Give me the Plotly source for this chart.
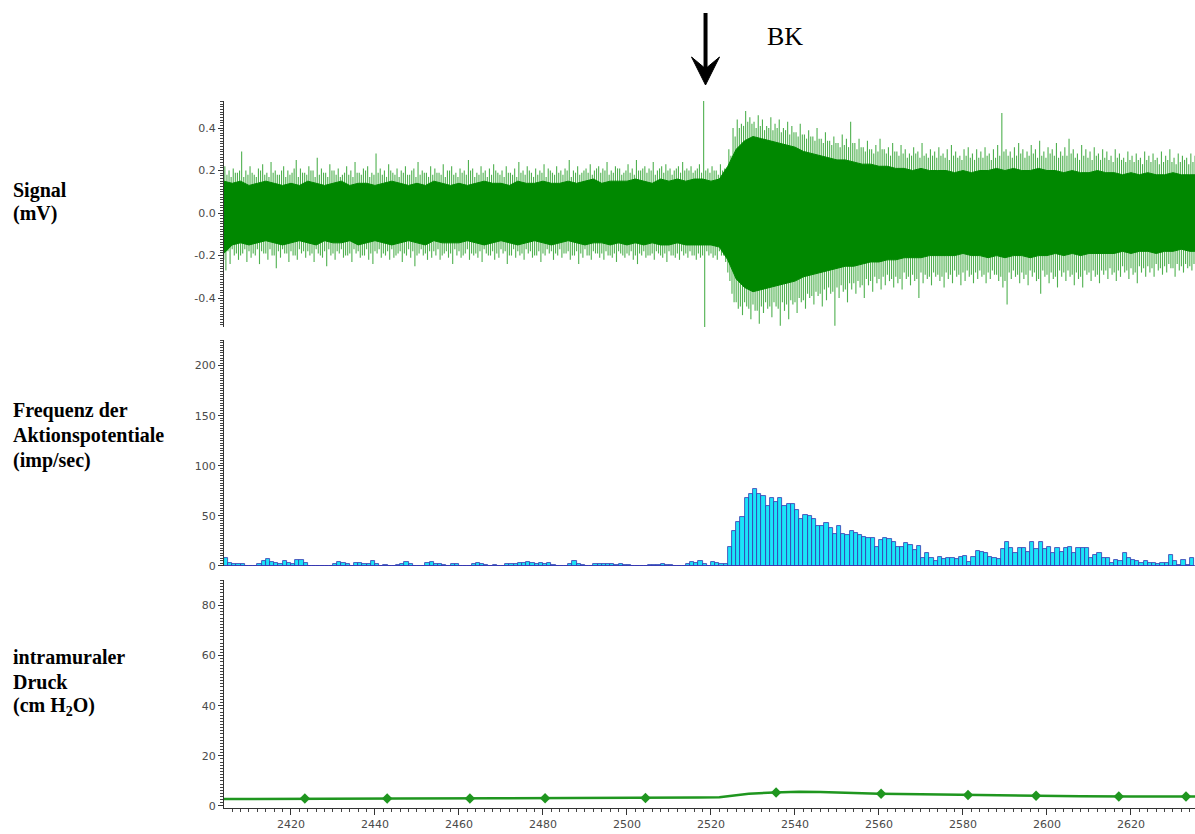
import plotly.graph_objects as go

# ---------------- data ----------------
# Signal (mV): per-second extreme spikes, starting at t = 2404 s
sig_start = 2404
spike_hi = [
    0.22, 0.2, 0.21, 0.19, 0.29, 0.2, 0.22, 0.18, 0.21, 0.23,
    0.19, 0.24, 0.2, 0.18, 0.22, 0.2, 0.19, 0.25, 0.21, 0.19,
    0.22, 0.2, 0.26, 0.21, 0.19, 0.23, 0.2, 0.21, 0.18, 0.22,
    0.2, 0.24, 0.19, 0.21, 0.22, 0.19, 0.28, 0.21, 0.2, 0.23,
    0.19, 0.21, 0.2, 0.22, 0.18, 0.21, 0.24, 0.2, 0.19, 0.22,
    0.21, 0.19, 0.23, 0.2, 0.22, 0.19, 0.21, 0.2, 0.25, 0.21,
    0.19, 0.22, 0.2, 0.21, 0.23, 0.19, 0.2, 0.22, 0.19, 0.21,
    0.24, 0.2, 0.22, 0.19, 0.21, 0.2, 0.23, 0.21, 0.19, 0.22,
    0.2, 0.21, 0.25, 0.2, 0.22, 0.19, 0.21, 0.23, 0.2, 0.22,
    0.21, 0.24, 0.2, 0.22, 0.21, 0.19, 0.23, 0.21, 0.25, 0.2,
    0.22, 0.21, 0.24, 0.2, 0.22, 0.23, 0.21, 0.2, 0.22, 0.24,
    0.21, 0.22, 0.2, 0.23, 0.53, 0.21, 0.22, 0.2, 0.23, 0.21,
    0.3, 0.4, 0.44, 0.42, 0.48, 0.45, 0.43, 0.46, 0.44, 0.41,
    0.45, 0.42, 0.44, 0.4, 0.43, 0.41, 0.38, 0.42, 0.37, 0.39,
    0.36, 0.4, 0.35, 0.38, 0.34, 0.36, 0.33, 0.37, 0.35, 0.43,
    0.33, 0.35, 0.31, 0.34, 0.3, 0.32, 0.35, 0.3, 0.31, 0.33,
    0.29, 0.32, 0.3, 0.28, 0.31, 0.29, 0.33, 0.28, 0.3, 0.29,
    0.31, 0.28, 0.3, 0.32, 0.29, 0.27, 0.3, 0.31, 0.28, 0.3,
    0.29, 0.31, 0.28, 0.3, 0.32, 0.47, 0.3, 0.29, 0.31, 0.33,
    0.3, 0.29, 0.32, 0.3, 0.34, 0.29, 0.31, 0.3, 0.33, 0.29,
    0.31, 0.35, 0.3, 0.28, 0.32, 0.3, 0.29, 0.31, 0.28, 0.3,
    0.29, 0.27, 0.3, 0.28, 0.26, 0.29, 0.27, 0.28, 0.26, 0.29,
    0.27, 0.28, 0.26, 0.29, 0.27, 0.3, 0.26, 0.28, 0.27, 0.26,
    0.28, 0.27,
]
spike_lo = [
    -0.27, -0.24, -0.2, -0.22, -0.19, -0.23, -0.21, -0.2, -0.24, -0.19,
    -0.22, -0.2, -0.26, -0.21, -0.19, -0.23, -0.2, -0.22, -0.19, -0.21,
    -0.2, -0.23, -0.19, -0.21, -0.25, -0.2, -0.22, -0.19, -0.21, -0.2,
    -0.23, -0.19, -0.21, -0.2, -0.22, -0.24, -0.19, -0.21, -0.2, -0.22,
    -0.21, -0.19, -0.23, -0.2, -0.21, -0.25, -0.19, -0.2, -0.22, -0.21,
    -0.2, -0.22, -0.19, -0.21, -0.24, -0.2, -0.21, -0.19, -0.22, -0.2,
    -0.21, -0.23, -0.19, -0.2, -0.22, -0.21, -0.19, -0.24, -0.2, -0.21,
    -0.2, -0.22, -0.19, -0.21, -0.2, -0.23, -0.2, -0.19, -0.22, -0.2,
    -0.21, -0.19, -0.22, -0.2, -0.24, -0.21, -0.2, -0.22, -0.19, -0.21,
    -0.22, -0.2, -0.21, -0.23, -0.19, -0.21, -0.2, -0.22, -0.24, -0.2,
    -0.21, -0.2, -0.22, -0.19, -0.21, -0.23, -0.2, -0.21, -0.22, -0.2,
    -0.21, -0.2, -0.22, -0.21, -0.54, -0.2, -0.21, -0.22, -0.2, -0.23,
    -0.32, -0.42, -0.45, -0.48, -0.44, -0.5, -0.46, -0.52, -0.47, -0.45,
    -0.49, -0.44, -0.53, -0.46, -0.5, -0.43, -0.47, -0.42, -0.45, -0.4,
    -0.43, -0.39, -0.44, -0.41, -0.38, -0.53, -0.4, -0.37, -0.42, -0.36,
    -0.38, -0.35, -0.4, -0.34, -0.37, -0.33, -0.36, -0.34, -0.32, -0.35,
    -0.33, -0.36, -0.31, -0.34, -0.32, -0.4, -0.33, -0.31, -0.34, -0.3,
    -0.32, -0.35, -0.31, -0.33, -0.3, -0.34, -0.32, -0.3, -0.33, -0.31,
    -0.3, -0.33, -0.31, -0.29, -0.32, -0.35, -0.43, -0.31, -0.3, -0.33,
    -0.31, -0.34, -0.3, -0.32, -0.38, -0.3, -0.33, -0.31, -0.35, -0.3,
    -0.32, -0.3, -0.34, -0.31, -0.35, -0.29, -0.32, -0.3, -0.33, -0.29,
    -0.31, -0.29, -0.32, -0.3, -0.28, -0.31, -0.29, -0.33, -0.28, -0.3,
    -0.28, -0.3, -0.27, -0.29, -0.28, -0.26, -0.3, -0.27, -0.28, -0.26,
    -0.27, -0.28,
]
# secondary (smaller) spikes, one more pair per second
spike2_hi = [
    0.18, 0.17, 0.19, 0.2, 0.17, 0.18, 0.19, 0.17, 0.2, 0.18,
    0.17, 0.19, 0.18, 0.2, 0.17, 0.18, 0.21, 0.17, 0.19, 0.18,
    0.2, 0.17, 0.18, 0.19, 0.17, 0.2, 0.18, 0.17, 0.19, 0.18,
    0.17, 0.19, 0.18, 0.2, 0.17, 0.18, 0.19, 0.18, 0.17, 0.2,
    0.18, 0.17, 0.19, 0.18, 0.2, 0.17, 0.18, 0.19, 0.17, 0.18,
    0.19, 0.18, 0.17, 0.2, 0.18, 0.17, 0.19, 0.18, 0.2, 0.17,
    0.18, 0.19, 0.17, 0.18, 0.2, 0.18, 0.17, 0.19, 0.18, 0.17,
    0.19, 0.18, 0.2, 0.17, 0.18, 0.19, 0.17, 0.2, 0.18, 0.19,
    0.18, 0.2, 0.17, 0.19, 0.18, 0.2, 0.19, 0.18, 0.21, 0.19,
    0.2, 0.18, 0.19, 0.21, 0.18, 0.2, 0.19, 0.18, 0.2, 0.21,
    0.19, 0.2, 0.18, 0.21, 0.19, 0.2, 0.18, 0.21, 0.19, 0.2,
    0.2, 0.19, 0.21, 0.19, 0.2, 0.19, 0.2, 0.18, 0.2, 0.19,
    0.27, 0.36, 0.4, 0.41, 0.43, 0.42, 0.4, 0.41, 0.39, 0.4,
    0.39, 0.4, 0.38, 0.39, 0.37, 0.38, 0.36, 0.37, 0.35, 0.36,
    0.34, 0.35, 0.33, 0.34, 0.32, 0.33, 0.31, 0.32, 0.31, 0.33,
    0.3, 0.31, 0.29, 0.3, 0.28, 0.29, 0.3, 0.28, 0.27, 0.29,
    0.27, 0.28, 0.26, 0.27, 0.28, 0.26, 0.27, 0.26, 0.27, 0.26,
    0.27, 0.26, 0.25, 0.27, 0.26, 0.25, 0.27, 0.26, 0.25, 0.26,
    0.26, 0.27, 0.25, 0.26, 0.27, 0.29, 0.27, 0.26, 0.27, 0.28,
    0.26, 0.27, 0.28, 0.26, 0.27, 0.26, 0.28, 0.27, 0.26, 0.27,
    0.27, 0.28, 0.26, 0.25, 0.27, 0.26, 0.25, 0.27, 0.25, 0.26,
    0.25, 0.24, 0.26, 0.25, 0.24, 0.25, 0.24, 0.25, 0.23, 0.25,
    0.24, 0.25, 0.23, 0.24, 0.25, 0.24, 0.23, 0.24, 0.25, 0.23,
    0.24, 0.23,
]
spike2_lo = [
    -0.22, -0.18, -0.17, -0.19, -0.2, -0.17, -0.18, -0.19, -0.17, -0.18,
    -0.19, -0.17, -0.2, -0.18, -0.17, -0.19, -0.18, -0.2, -0.17, -0.18,
    -0.18, -0.19, -0.17, -0.2, -0.18, -0.17, -0.19, -0.18, -0.17, -0.2,
    -0.19, -0.17, -0.18, -0.2, -0.17, -0.19, -0.18, -0.17, -0.19, -0.18,
    -0.17, -0.2, -0.18, -0.19, -0.17, -0.18, -0.2, -0.17, -0.19, -0.18,
    -0.18, -0.17, -0.2, -0.18, -0.19, -0.17, -0.18, -0.2, -0.17, -0.19,
    -0.19, -0.18, -0.17, -0.2, -0.18, -0.19, -0.17, -0.18, -0.2, -0.17,
    -0.18, -0.19, -0.17, -0.18, -0.2, -0.18, -0.19, -0.17, -0.18, -0.19,
    -0.17, -0.19, -0.18, -0.2, -0.18, -0.19, -0.17, -0.2, -0.18, -0.19,
    -0.19, -0.18, -0.2, -0.19, -0.18, -0.2, -0.19, -0.18, -0.2, -0.19,
    -0.18, -0.2, -0.19, -0.18, -0.2, -0.19, -0.18, -0.2, -0.19, -0.18,
    -0.19, -0.18, -0.2, -0.19, -0.2, -0.18, -0.19, -0.2, -0.18, -0.2,
    -0.28, -0.38, -0.42, -0.44, -0.42, -0.45, -0.43, -0.46, -0.44, -0.42,
    -0.44, -0.42, -0.45, -0.42, -0.43, -0.41, -0.42, -0.4, -0.41, -0.38,
    -0.39, -0.37, -0.38, -0.36, -0.35, -0.37, -0.35, -0.34, -0.36, -0.33,
    -0.33, -0.32, -0.34, -0.31, -0.32, -0.3, -0.31, -0.3, -0.29, -0.31,
    -0.3, -0.31, -0.28, -0.3, -0.29, -0.31, -0.28, -0.29, -0.3, -0.28,
    -0.29, -0.3, -0.28, -0.29, -0.27, -0.29, -0.28, -0.27, -0.29, -0.28,
    -0.27, -0.29, -0.28, -0.27, -0.29, -0.3, -0.32, -0.28, -0.27, -0.29,
    -0.28, -0.29, -0.27, -0.28, -0.31, -0.27, -0.29, -0.28, -0.3, -0.27,
    -0.28, -0.27, -0.29, -0.28, -0.3, -0.27, -0.28, -0.27, -0.29, -0.27,
    -0.27, -0.26, -0.28, -0.27, -0.25, -0.27, -0.26, -0.28, -0.25, -0.26,
    -0.25, -0.26, -0.24, -0.26, -0.25, -0.24, -0.26, -0.24, -0.25, -0.24,
    -0.25, -0.24,
]
# dense core of the signal trace, every 2 s from 2404 s
core_t = list(range(2404, 2637, 2))
core_hi = [
    0.15, 0.14, 0.15, 0.13, 0.14, 0.15, 0.14, 0.13,
    0.14, 0.13, 0.15, 0.14, 0.13, 0.14, 0.15, 0.13, 0.14, 0.14,
    0.13, 0.14, 0.15, 0.14, 0.13, 0.14, 0.13, 0.15, 0.14, 0.13,
    0.14, 0.13, 0.14, 0.15, 0.14, 0.14, 0.13, 0.15, 0.14, 0.14,
    0.15, 0.14, 0.14, 0.15, 0.14, 0.15, 0.16, 0.14, 0.15, 0.15,
    0.15, 0.16, 0.15, 0.14, 0.16, 0.15, 0.16, 0.15, 0.16,
    0.16, 0.15, 0.16, 0.22, 0.3,
    0.34, 0.36, 0.35, 0.34, 0.33, 0.32,
    0.31, 0.29, 0.28, 0.27, 0.26, 0.25, 0.25, 0.24,
    0.23, 0.23, 0.22, 0.22, 0.21, 0.21, 0.2, 0.21, 0.2, 0.2,
    0.2, 0.19, 0.2, 0.19, 0.2, 0.2, 0.21, 0.2, 0.21, 0.2,
    0.2, 0.21, 0.2, 0.2, 0.19, 0.2, 0.19, 0.19, 0.2, 0.19,
    0.19, 0.18, 0.19, 0.18, 0.19, 0.18, 0.18, 0.19, 0.18, 0.18, 0.18,
]
core_lo = [
    -0.19, -0.15, -0.14, -0.15, -0.14, -0.13, -0.14, -0.15,
    -0.14, -0.13, -0.14, -0.15, -0.13, -0.14, -0.14, -0.13, -0.15, -0.14,
    -0.13, -0.14, -0.15, -0.14, -0.13, -0.14, -0.15, -0.13, -0.14, -0.14,
    -0.14, -0.13, -0.14, -0.15, -0.14, -0.13, -0.14, -0.15, -0.14, -0.13,
    -0.14, -0.15, -0.14, -0.13, -0.14, -0.15, -0.14, -0.14, -0.15, -0.14,
    -0.15, -0.14, -0.15, -0.14, -0.15, -0.15, -0.14, -0.15, -0.15,
    -0.15, -0.15, -0.16, -0.22, -0.31,
    -0.35, -0.37, -0.36, -0.35, -0.34, -0.33,
    -0.32, -0.3, -0.29, -0.28, -0.27, -0.26, -0.25, -0.25,
    -0.24, -0.23, -0.23, -0.22, -0.22, -0.21, -0.21, -0.21, -0.2, -0.2,
    -0.2, -0.2, -0.19, -0.2, -0.2, -0.21, -0.2, -0.21, -0.2, -0.2,
    -0.21, -0.2, -0.2, -0.19, -0.2, -0.19, -0.2, -0.19, -0.19, -0.19,
    -0.19, -0.18, -0.19, -0.18, -0.18, -0.19, -0.18, -0.18, -0.17, -0.18, -0.18,
]

# Frequency of action potentials (imp/sec), 1-s bins from 2404 s
freq_start = 2404
freq_pre = [
    8, 3, 2, 2, 2, 0.5, 0, 0, 2, 5, 7, 4, 3, 2, 5, 3, 2, 6, 6, 3, 0.5,
    0, 0, 0, 0, 0,
    2, 4, 3, 2, 0, 3, 3, 2, 2, 5, 2, 0, 1, 0, 0, 1, 2, 4, 2, 0,
    0, 0, 3, 4, 2, 2, 1, 0, 2, 2, 0, 0, 0, 2, 3, 2, 1, 0, 1, 0,
    0, 2, 2, 2, 3, 3, 4, 3, 2, 3, 2, 3, 1, 0, 0, 0, 2, 5, 2, 1,
    0, 0, 2, 2, 2, 2, 2, 1, 2, 1, 1, 0, 0, 0, 0, 1, 1, 1, 2, 1,
    1, 0, 0, 0, 2, 4, 3, 5, 2, 0, 4, 3, 2, 2,
]
freq_burst = [
    19, 35, 44, 49, 68, 72, 77, 72, 70, 60, 68, 64, 68, 60, 62,
    62, 56, 47, 51, 50, 47, 40, 40, 43, 38, 32, 40, 32, 31, 35,
    33, 31, 29, 28, 28, 19, 26, 28, 27, 24, 19, 19, 23, 21, 16,
    20, 8, 13, 8, 5, 9, 7, 8, 8, 7,
]
freq_late = [
    9, 10, 4, 9, 15, 14, 13, 9, 8, 7, 17, 24, 18, 13, 18, 18, 14, 24,
    17, 24, 17, 19, 13, 18, 14, 18, 19, 13, 18, 18, 18, 8, 11, 13, 8,
    8, 3, 6, 5, 13, 8, 6, 5, 3, 5, 3, 3, 2, 3, 3, 11, 5, 1, 6, 1, 8,
]

# Intramural pressure (cm H2O)
press_t = [2404, 2422, 2446, 2470, 2494, 2506, 2517, 2522, 2526, 2529,
           2535, 2541, 2546, 2553, 2560, 2570, 2582, 2594, 2608, 2620, 2636]
press_v = [2.8, 3.0, 3.0, 3.1, 3.1, 3.2, 3.4, 3.5, 4.3, 4.9,
           5.4, 5.7, 5.6, 5.2, 4.9, 4.7, 4.4, 4.1, 3.9, 3.8, 3.8]
mark_t = [2423.3, 2442.9, 2462.6, 2480.5, 2504.4, 2535.5, 2560.5,
          2581.2, 2597.4, 2617.1, 2633.1]
mark_v = [3.0, 3.0, 3.0, 3.1, 3.2, 5.4, 4.9, 4.4, 4.1, 3.8, 3.8]

bk_time = 2518.7
x_range = [2404.05, 2635.24]

# ---------------- build traces ----------------
freq = freq_pre + freq_burst + freq_late
freq_t = [freq_start + i + 0.5 for i in range(len(freq))]

sx, sy = [], []
for i in range(len(spike_hi)):
    t = sig_start + i
    sx += [t + 0.25, t + 0.25, None, t + 0.5, t + 0.5, None,
           t + 0.75, t + 0.75, None, t, t, None]
    sy += [0, spike_hi[i], None, 0, spike_lo[i], None,
           0, spike2_hi[i], None, 0, spike2_lo[i], None]

GREEN = "#008800"
fig = go.Figure()
fig.add_trace(go.Scatter(x=sx, y=sy, mode="lines", xaxis="x", yaxis="y",
                         line=dict(color="rgba(20,150,20,0.75)", width=1.1),
                         hoverinfo="skip"))
fig.add_trace(go.Scatter(x=core_t + core_t[::-1], y=core_hi + core_lo[::-1],
                         mode="lines", fill="toself", fillcolor=GREEN,
                         line=dict(color=GREEN, width=1), xaxis="x", yaxis="y"))
fig.add_trace(go.Bar(x=freq_t, y=freq, width=1, xaxis="x", yaxis="y2",
                     marker=dict(color="#1ae4f8", line=dict(color="#3535b0", width=0.8))))
fig.add_trace(go.Scatter(x=[freq_start, freq_start + len(freq) + 1], y=[0, 0],
                         mode="lines", line=dict(color="#3535b0", width=1.5),
                         xaxis="x", yaxis="y2"))
fig.add_trace(go.Scatter(x=press_t, y=press_v, mode="lines", xaxis="x", yaxis="y3",
                         line=dict(color="#1f961f", width=2.5)))
fig.add_trace(go.Scatter(x=mark_t, y=mark_v, mode="markers", xaxis="x", yaxis="y3",
                         marker=dict(symbol="diamond", size=8, color="#1f961f")))

TICKFONT = dict(family="DejaVu Sans", size=11, color="#4a4a4a")
axis_common = dict(showline=True, linecolor="#333333", linewidth=1, ticks="outside",
                   tickcolor="#333333", ticklen=5, showgrid=False, zeroline=False,
                   tickfont=TICKFONT, fixedrange=True)
MINOR = dict(ticks="outside", ticklen=3, tickcolor="#444444")

fig.update_layout(
    width=1195, height=834, margin=dict(l=224, r=0, t=101, b=26),
    paper_bgcolor="white", plot_bgcolor="white", showlegend=False, bargap=0,
    xaxis=dict(range=x_range, anchor="y3", dtick=20, tick0=2400, ticklen=6,
               minor=dict(dtick=2, **MINOR),
               **{k: v for k, v in axis_common.items() if k != "ticklen"}),
    yaxis=dict(domain=[0.6803, 1.0], range=[-0.536, 0.527], anchor="x",
               tickvals=[-0.4, -0.2, 0.0, 0.2, 0.4],
               ticktext=["-0.4", "-0.2", "0.0", "0.2", "0.4"],
               minor=dict(dtick=0.0125, tick0=0, **MINOR),
               **axis_common),
    yaxis2=dict(domain=[0.3423, 0.6620], range=[0, 225.5], anchor="x", dtick=50,
                minor=dict(dtick=2.5, tick0=0, **MINOR),
                **axis_common),
    yaxis3=dict(domain=[0, 0.3219], range=[-0.8, 90], anchor="x", dtick=20, tick0=0,
                minor=dict(dtick=1.25, tick0=0, **MINOR),
                **axis_common),
)

def px_y(py):
    return (808 - py) / 707.0

def px_x(px):
    return (px - 224) / 971.0

LABEL = dict(family="Liberation Serif", size=20, color="black")
labels = [
    ("<b>Signal</b>", 191), ("<b>(mV)</b>", 214),
    ("<b>Frequenz der</b>", 410), ("<b>Aktionspotentiale</b>", 435),
    ("<b>(imp/sec)</b>", 460),
    ("<b>intramuraler</b>", 657), ("<b>Druck</b>", 682),
    ("<b>(cm H<sub>2</sub>O)</b>", 706),
]
for txt, py in labels:
    fig.add_annotation(text=txt, xref="paper", yref="paper", x=px_x(11), y=px_y(py),
                       xanchor="left", yanchor="middle", showarrow=False, font=LABEL)

# BK arrow: shaft + notched head (pixel-sized, anchored at the event time)
fig.add_shape(type="line", xref="x", yref="paper", x0=bk_time, x1=bk_time,
              y0=px_y(13), y1=px_y(70), line=dict(color="black", width=4))
fig.add_shape(type="path", xref="x", yref="paper", xsizemode="pixel", ysizemode="pixel",
              xanchor=bk_time, yanchor=px_y(85),
              path="M 0,0 L -14,28 L -2,18 L 2,18 L 14,28 Z",
              fillcolor="black", line=dict(color="black", width=1))
fig.add_annotation(text="BK", xref="paper", yref="paper", x=px_x(785), y=px_y(37),
                   xanchor="center", yanchor="middle", showarrow=False,
                   font=dict(family="Liberation Serif", size=26, color="black"))

fig.write_html("out.html")
